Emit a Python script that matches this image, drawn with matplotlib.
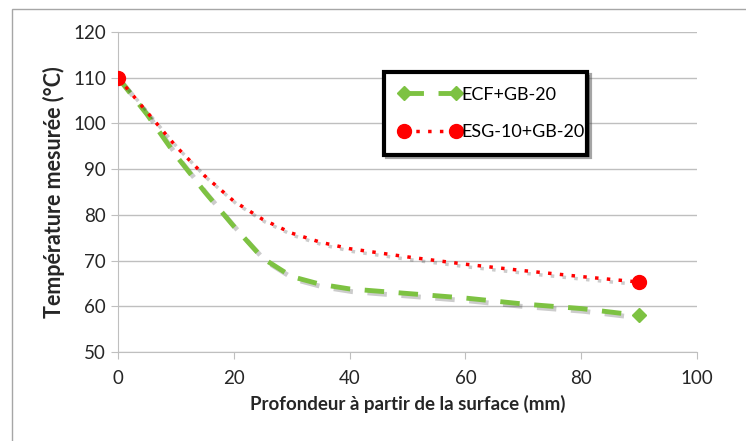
import matplotlib.pyplot as plt
import matplotlib.patheffects as pe
from matplotlib.lines import Line2D
from matplotlib.patches import Rectangle

depth_ecf = [0, 5, 10, 15, 20, 25, 30, 35, 40, 50, 60, 70, 80, 90]
temp_ecf = [110, 102, 93, 85, 77.5, 70.5, 66.5, 64.8, 63.8, 62.8, 61.8, 60.5, 59.5, 58]
depth_esg = [0, 5, 10, 15, 20, 25, 30, 35, 40, 50, 60, 70, 80, 90]
temp_esg = [110, 102.5, 95, 88.5, 83, 79, 76, 74, 72.6, 70.8, 69.2, 67.8, 66.5, 65.3]
labels = ['ECF+GB-20', 'ESG-10+GB-20']

plt.rcParams['font.family'] = ['Lato', 'DejaVu Sans']
fig = plt.figure(figsize=(7.46, 4.41), dpi=100)
ax = fig.add_axes([118 / 746, 89 / 441, 579 / 746, 320 / 441])

shadow = [pe.SimpleLineShadow(offset=(2, -2), alpha=0.2, shadow_color='black'),
          pe.Normal()]
green = '#7dc242'
red = '#ff0000'
g_style = dict(color=green, lw=3.5, ls=(0, (4, 3)))
r_style = dict(color=red, lw=2.5, ls=(0, (1, 2.4)))

ax.plot(depth_ecf, temp_ecf, path_effects=shadow, zorder=3, **g_style)
ax.plot(depth_esg, temp_esg, path_effects=shadow, zorder=4, **r_style)
# markers only on the first and last measurement
ax.plot(depth_ecf[::len(depth_ecf) - 1], temp_ecf[::len(temp_ecf) - 1],
        ls='none', marker='D', ms=7, color=green, zorder=5)
ax.plot(depth_esg[::len(depth_esg) - 1], temp_esg[::len(temp_esg) - 1],
        ls='none', marker='o', ms=10, color=red, zorder=6)

ax.set_xlim(0, 100)
ax.set_ylim(50, 120)
ax.set_xticks(range(0, 101, 20))
ax.set_yticks(range(50, 121, 10))
ax.grid(axis='y', color='#bfbfbf', lw=1)
ax.set_axisbelow(True)
for s in ['top', 'right']:
    ax.spines[s].set_visible(False)
for s in ['left', 'bottom']:
    ax.spines[s].set_color('#bfbfbf')
ax.tick_params(colors='#bfbfbf', labelcolor='#262626', labelsize=13.5,
               length=5, direction='out')
ax.tick_params(axis='x', pad=8)
ax.set_xlabel('Profondeur à partir de la surface (mm)', fontsize=13.5,
              fontweight='bold', color='#262626', labelpad=6)
ax.set_ylabel('Température mesurée (°C)', fontsize=15.5, fontweight='bold',
              color='#262626', labelpad=6)

handles = [Line2D([], [], marker='D', ms=7, **g_style),
           Line2D([], [], marker='o', ms=10, **r_style)]
leg = ax.legend(handles, labels, loc='upper left',
                bbox_to_anchor=(0.444, 0.647, 0.382, 0.256),
                mode='expand', numpoints=2, fontsize=13, frameon=True,
                fancybox=False, shadow=True, borderpad=0.8, labelspacing=1.2,
                handlelength=3.5, handletextpad=0.0)
leg.get_frame().set_edgecolor('black')
leg.get_frame().set_linewidth(3)

fig.patches.append(Rectangle((12 / 746, -0.1), 1.0, 1 - 9 / 441 + 0.1,
                             transform=fig.transFigure, fill=False,
                             edgecolor='#a6a6a6', lw=1))

fig.savefig('out.png', dpi=100)
